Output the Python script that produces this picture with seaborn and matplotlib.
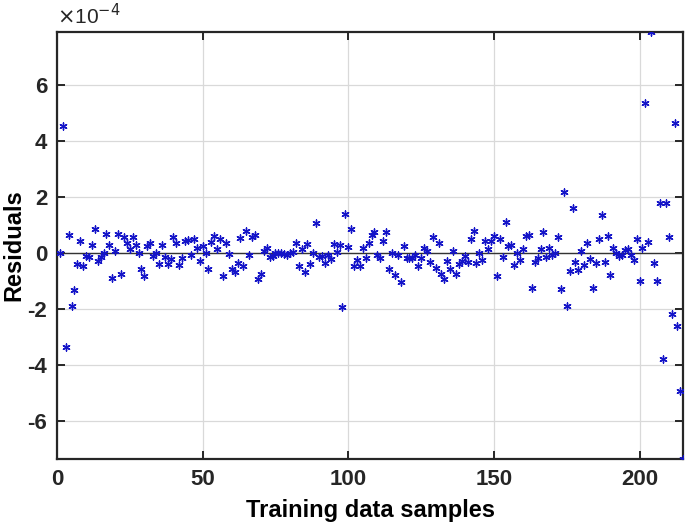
import numpy as np
import matplotlib
matplotlib.use("Agg")
import matplotlib.pyplot as plt
import seaborn as sns
import pandas as pd

# residuals, in units of 1e-4
residuals = [
    0.0, 4.55, -3.35, 0.64, -1.89, -1.33, -0.4, 0.45, -0.45, -0.1,
    -0.15, 0.29, 0.88, -0.29, -0.15, 0.0, 0.67, 0.29, -0.88, 0.08,
    0.69, -0.73, 0.56, 0.37, 0.14, 0.58, 0.3, 0.0, -0.58, -0.82,
    0.27, 0.35, -0.1, 0.0, -0.4, 0.29, -0.15, -0.39, -0.2, 0.56,
    0.35, -0.43, -0.17, 0.44, 0.46, -0.08, 0.49, 0.17, -0.29, 0.27,
    0.01, -0.55, 0.38, 0.62, 0.14, 0.49, -0.8, 0.37, -0.03, -0.56,
    -0.69, -0.36, 0.54, -0.45, 0.8, -0.08, 0.56, 0.64, -0.94, -0.75,
    0.08, 0.17, -0.13, -0.12, 0.0, 0.02, 0.0, -0.03, -0.07, 0.01,
    0.05, 0.37, -0.46, 0.13, -0.69, 0.31, -0.39, 0.0, 1.08, -0.13,
    -0.12, -0.37, -0.07, -0.2, 0.33, 0.05, 0.29, -1.93, 1.39, 0.21,
    0.85, -0.46, -0.26, -0.46, 0.19, -0.19, 0.36, 0.65, 0.77, -0.06,
    -0.18, 0.42, 0.77, -0.58, 0.0, -0.79, -0.07, -1.02, 0.27, -0.18,
    -0.19, -0.18, -0.07, -0.46, -0.17, 0.18, 0.06, -0.3, 0.56, -0.52,
    0.37, -0.73, -0.94, -0.29, -0.58, 0.08, -0.76, -0.39, -0.27, -0.12,
    -0.33, 0.52, 0.8, -0.37, 0.02, -0.25, 0.45, 0.13, 0.42, 0.62,
    -0.82, 0.49, -0.13, 1.11, 0.24, 0.3, -0.43, 0.0, -0.25, 0.15,
    0.63, 0.65, -1.26, -0.32, -0.17, 0.13, 0.77, -0.13, 0.18, -0.05,
    0.0, 0.58, -1.29, 2.17, -1.88, -0.65, 1.62, -0.32, -0.61, 0.08,
    -0.43, 0.35, -0.21, -1.23, -0.37, 0.51, 1.38, -0.31, 0.63, -0.79,
    0.18, 0.0, -0.1, -0.05, 0.1, 0.14, -0.07, -0.25, 0.51, -1.0,
    0.18, 5.36, 0.4, 7.9, -0.37, -1.0, 1.8, -3.79, 1.8, 0.56,
    -2.18, 4.64, -2.6, -4.92, -7.35,
]
samples = np.arange(1, len(residuals) + 1)

xticks = [0, 50, 100, 150, 200]
yticks = [-6, -4, -2, 0, 2, 4, 6]

plt.rcParams['font.family'] = ['Liberation Sans', 'DejaVu Sans']
plt.rcParams['axes.unicode_minus'] = False

df = pd.DataFrame({"sample": samples, "res": residuals})

fig = plt.figure(figsize=(6.86, 5.25), dpi=100)
ax = fig.add_axes([0.083, 0.126, 0.913, 0.813])

ax.axhline(0, color="#333333", lw=1.0, zorder=1)
sns.scatterplot(data=df, x="sample", y="res", ax=ax, marker=(6, 2, 0),
                color="#1414c8", s=26, linewidth=1.0, zorder=3, legend=False)

ax.set_xlim(0, len(residuals))
ax.set_ylim(min(residuals), max(residuals))
ax.set_xticks(xticks)
ax.set_yticks(yticks)
ax.grid(True, color="#d9d9d9", lw=0.9)
ax.set_axisbelow(True)

for s in ax.spines.values():
    s.set_linewidth(1.6)
    s.set_color("#262626")
ax.tick_params(direction="in", top=True, right=True, length=6, width=1.4,
               labelsize=16, pad=7, colors="#262626")
for lab in ax.get_xticklabels() + ax.get_yticklabels():
    lab.set_fontweight("bold")

ax.set_xlabel("Training data samples", fontsize=17, fontweight="bold", labelpad=7)
ax.set_ylabel("Residuals", fontsize=17, fontweight="bold")
ax.yaxis.set_label_coords(-0.050, 0.5)
ax.text(0.0, 1.008, r"$\times$10$^{-4}$", transform=ax.transAxes,
        fontsize=15, ha="left", va="bottom", color="#262626")

fig.savefig("out.png", dpi=100)
